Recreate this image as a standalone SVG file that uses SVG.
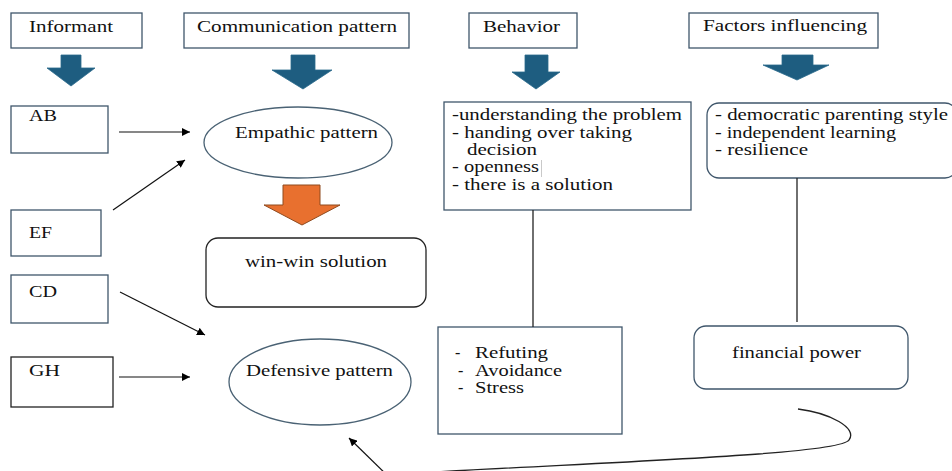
<svg xmlns="http://www.w3.org/2000/svg" width="952" height="471" viewBox="0 0 952 471">
<defs>
<marker id="ah" viewBox="0 0 10 10" refX="10" refY="5" markerWidth="8" markerHeight="8" markerUnits="userSpaceOnUse" orient="auto">
<path d="M0,0 L10,5 L0,10 z" fill="#000"/>
</marker>
<style>
text{font-family:'Liberation Serif','DejaVu Serif',serif;font-size:16px;fill:#111;}
.box{fill:#fff;stroke:#3f566b;stroke-width:1.3;}
.bk{fill:#fff;stroke:#222;stroke-width:1.3;}
.ell{fill:#fff;stroke:#4a6274;stroke-width:1.3;}
.blue{fill:#1e5d80;stroke:#2a6a8c;stroke-width:0.8;}
.orange{fill:#e8702f;stroke:#8f4a1e;stroke-width:1;}
.ln{fill:none;stroke:#222;stroke-width:1.3;}
.arr{fill:none;stroke:#111;stroke-width:1.2;marker-end:url(#ah);}
</style>
</defs>
<rect width="952" height="471" fill="#fff"/>
<g font-family="Liberation Serif, DejaVu Serif, serif">
<g id="hdr-informant">
<rect class="box" x="11" y="13" width="131" height="35"/>
<text x="29" y="32" textLength="84" lengthAdjust="spacingAndGlyphs">Informant</text>
</g>
<g id="hdr-comm">
<rect class="box" x="184" y="13" width="225" height="35"/>
<text x="197" y="32" textLength="200" lengthAdjust="spacingAndGlyphs">Communication pattern</text>
</g>
<g id="hdr-behavior">
<rect class="box" x="469" y="13" width="108" height="35"/>
<text x="483" y="32" textLength="77" lengthAdjust="spacingAndGlyphs">Behavior</text>
</g>
<g id="hdr-factors">
<rect class="box" x="689" y="13" width="189" height="35"/>
<text x="703" y="31" textLength="164" lengthAdjust="spacingAndGlyphs">Factors influencing</text>
</g>

<g id="blue-arrows">
<polygon class="blue" points="61,55 81,55 81,68 95,68 71,86 47,68 61,68"/>
<polygon class="blue" points="291,55 315,55 315,70 332,70 303,89 272,70 291,70"/>
<polygon class="blue" points="525,55 548,55 548,72 560,72 536,89 512,72 525,72"/>
<polygon class="blue" points="782,55 813,55 813,65 829,65 797,80 763,65 782,65"/>
</g>

<g id="ab">
<rect class="box" x="11" y="106" width="97" height="47"/>
<text x="29" y="121" textLength="28" lengthAdjust="spacingAndGlyphs">AB</text>
</g>
<g id="ef">
<rect class="box" x="11" y="210" width="90" height="46"/>
<text x="29" y="238" textLength="23" lengthAdjust="spacingAndGlyphs">EF</text>
</g>
<g id="cd">
<rect class="box" x="11" y="275" width="97" height="48"/>
<text x="29" y="297" textLength="28" lengthAdjust="spacingAndGlyphs">CD</text>
</g>
<g id="gh">
<rect class="bk" x="11" y="357" width="102" height="50"/>
<text x="29" y="376" textLength="31" lengthAdjust="spacingAndGlyphs">GH</text>
</g>

<g id="empathic">
<ellipse class="ell" cx="298" cy="142.5" rx="94" ry="35.5"/>
<text x="235" y="138" textLength="143" lengthAdjust="spacingAndGlyphs">Empathic pattern</text>
</g>
<g id="orange-arrow">
<polygon class="orange" points="283,185 320,185 320,205 340,205 302,225 264,205 283,205"/>
</g>
<g id="winwin">
<rect class="bk" x="206" y="238" width="220" height="69" rx="12"/>
<text x="245" y="267" textLength="142" lengthAdjust="spacingAndGlyphs">win-win solution</text>
</g>
<g id="defensive">
<ellipse class="ell" cx="320" cy="382" rx="91" ry="43"/>
<text x="246" y="376" textLength="147" lengthAdjust="spacingAndGlyphs">Defensive pattern</text>
</g>

<g id="behavior-list">
<rect class="box" x="444" y="102" width="247" height="108"/>
<text x="452" y="120" textLength="230" lengthAdjust="spacingAndGlyphs">-understanding the problem</text>
<text x="452" y="138" textLength="180" lengthAdjust="spacingAndGlyphs">- handing over taking</text>
<text x="467" y="155" textLength="70" lengthAdjust="spacingAndGlyphs">decision</text>
<text x="452" y="172" textLength="87" lengthAdjust="spacingAndGlyphs">- openness</text>
<line x1="541.5" y1="160" x2="541.5" y2="177" stroke="#bbb" stroke-width="0.8"/>
<text x="452" y="190" textLength="161" lengthAdjust="spacingAndGlyphs">- there is a solution</text>
</g>

<g id="factors-list">
<rect class="box" x="707" y="103" width="250" height="75" rx="12"/>
<text x="715" y="120" textLength="233" lengthAdjust="spacingAndGlyphs">- democratic parenting style</text>
<text x="715" y="138" textLength="181" lengthAdjust="spacingAndGlyphs">- independent learning</text>
<text x="715" y="155" textLength="93" lengthAdjust="spacingAndGlyphs">- resilience</text>
</g>

<g id="refuting">
<rect class="box" x="438" y="327" width="184" height="107"/>
<text x="455" y="358">-</text>
<text x="475" y="358" textLength="73" lengthAdjust="spacingAndGlyphs">Refuting</text>
<text x="458" y="376">-</text>
<text x="475" y="376" textLength="87" lengthAdjust="spacingAndGlyphs">Avoidance</text>
<text x="458" y="393">-</text>
<text x="475" y="393" textLength="49" lengthAdjust="spacingAndGlyphs">Stress</text>
</g>

<g id="financial">
<rect class="box" x="694" y="326" width="214" height="63" rx="12"/>
<text x="732" y="358" textLength="129" lengthAdjust="spacingAndGlyphs">financial power</text>
</g>
</g>
<g id="connectors">
<line class="arr" x1="119" y1="132" x2="190" y2="132"/>
<line class="arr" x1="113" y1="210" x2="185" y2="160"/>
<line class="arr" x1="120" y1="292" x2="205" y2="335"/>
<line class="arr" x1="119" y1="377" x2="190" y2="377"/>
<line class="ln" x1="533" y1="210" x2="533" y2="327"/>
<line class="ln" x1="797" y1="178" x2="797" y2="322"/>
<path class="ln" d="M798,409 C830,413 858,428 849,440 C840,455 600,462 400,474"/>
<line class="arr" x1="393" y1="481" x2="349" y2="438"/>
</g>
</svg>
